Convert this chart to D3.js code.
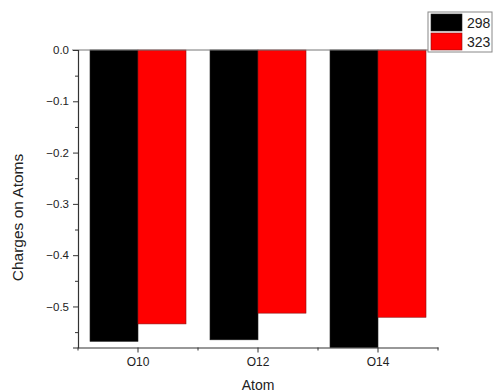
<!DOCTYPE html>
<html>
<head>
<meta charset="utf-8">
<script src="https://cdn.jsdelivr.net/npm/d3@7"></script>
<style>
  html, body { margin: 0; padding: 0; background: #fff; }
  svg { display: block; font-family: "Liberation Sans", Arial, sans-serif; }
</style>
</head>
<body>
<svg id="chart" width="494" height="392"></svg>
<script>
// Atomic charges of the oxygen atoms at two temperatures (K)
const atoms = ["O10", "O12", "O14"];
const seriesNames = ["298", "323"];
const charges298 = [-0.568, -0.565, -0.58];
const charges323 = [-0.534, -0.513, -0.521];
const seriesColors = ["#000000", "#ff0000"];
const yMajorTicks = [0, -0.1, -0.2, -0.3, -0.4, -0.5];
const yMinorTicks = [-0.05, -0.15, -0.25, -0.35, -0.45, -0.55];

const rows = atoms.map((a, i) => ({ atom: a, values: [charges298[i], charges323[i]] }));

const svg = d3.select("#chart");
const plot = { left: 78, right: 438, top: 50, bottom: 347.5 };

const x = d3.scaleBand().domain(atoms).range([plot.left, plot.right]).padding(0);
const xs = d3.scaleBand().domain(seriesNames).range([x.bandwidth() * 0.1, x.bandwidth() * 0.9]).padding(0);
const y = d3.scaleLinear().domain([-0.58, 0]).range([plot.bottom, plot.top]);

// bars
const groups = svg.append("g").selectAll("g").data(rows).join("g")
  .attr("transform", d => `translate(${x(d.atom)},0)`);
groups.selectAll("rect")
  .data(d => d.values.map((v, k) => ({ v, k })))
  .join("rect")
  .attr("x", d => xs(seriesNames[d.k]))
  .attr("width", xs.bandwidth())
  .attr("y", y(0))
  .attr("height", d => y(d.v) - y(0))
  .attr("fill", d => seriesColors[d.k])
  .attr("stroke", d => d.k === 0 ? "#222" : "#8a1010")
  .attr("stroke-width", 0.6);

// zero line across the plot
svg.append("line")
  .attr("x1", plot.left - 6).attr("x2", plot.right)
  .attr("y1", y(0)).attr("y2", y(0))
  .attr("stroke", "#777").attr("stroke-width", 1);

const axisColor = "#333";

// y axis
svg.append("g")
  .attr("transform", `translate(${plot.left},0)`)
  .call(d3.axisLeft(y).tickValues(yMajorTicks).tickFormat(d3.format(".1f")).tickSize(5).tickPadding(4));
svg.append("g")
  .attr("transform", `translate(${plot.left},0)`)
  .call(d3.axisLeft(y).tickValues(yMinorTicks).tickFormat("").tickSize(3))
  .call(g => g.select(".domain").remove());

// x axis
const xAxisG = svg.append("g")
  .attr("transform", `translate(0,${plot.bottom})`)
  .call(d3.axisBottom(x).tickSize(5).tickPadding(4.5).tickSizeOuter(0));
const xMinor = svg.append("g")
  .attr("transform", `translate(0,${plot.bottom})`);
xMinor.selectAll("line")
  .data([plot.left, ...atoms.map(a => x(a) + x.bandwidth())])
  .join("line")
  .attr("x1", d => d).attr("x2", d => d)
  .attr("y1", 0).attr("y2", 3);

svg.selectAll(".domain").attr("stroke", axisColor).attr("stroke-width", 1.2);
svg.selectAll(".tick line").attr("stroke", axisColor);
xMinor.selectAll("line").attr("stroke", axisColor);
svg.selectAll(".tick text").attr("fill", "#222").style("font-size", "11.5px");
xAxisG.selectAll(".tick text").style("font-size", "12px");

// axis titles
svg.append("text")
  .attr("x", (plot.left + plot.right) / 2).attr("y", 390)
  .attr("text-anchor", "middle").attr("fill", "#222")
  .style("font-size", "14px").text("Atom");
svg.append("text")
  .attr("transform", "translate(23,217.5) rotate(-90)")
  .attr("text-anchor", "middle").attr("fill", "#222")
  .style("font-size", "15.5px").text("Charges on Atoms");

// legend
const legend = svg.append("g").attr("transform", "translate(428,12)");
legend.append("rect")
  .attr("width", 64).attr("height", 40)
  .attr("fill", "#fff").attr("stroke", "#888").attr("stroke-width", 1);
const items = legend.selectAll("g.item").data(seriesNames).join("g")
  .attr("class", "item")
  .attr("transform", (d, i) => `translate(3,${2 + i * 19})`);
items.append("rect")
  .attr("width", 31).attr("height", 17)
  .attr("fill", (d, i) => seriesColors[i])
  .attr("stroke", (d, i) => i === 0 ? "#222" : "#8a1010").attr("stroke-width", 0.6);
items.append("text")
  .attr("x", 36).attr("y", 14)
  .attr("fill", "#222").style("font-size", "14px")
  .text(d => d);
</script>
</body>
</html>
